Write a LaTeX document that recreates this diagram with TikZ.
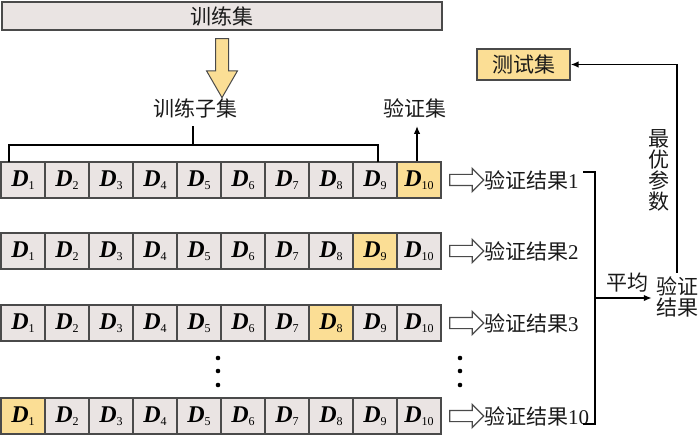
\documentclass[tikz,border=0pt]{standalone}
\usepackage{fontspec}
\setmainfont{Liberation Serif}
\newfontfamily\cjk{Noto Sans CJK SC}
\usetikzlibrary{shapes.arrows,arrows.meta}
\definecolor{cellgray}{HTML}{EAE4E3}
\definecolor{cellyel}{HTML}{FBDE95}
\definecolor{edge}{HTML}{4A4A4A}
\tikzset{
 cell/.style={draw=edge, line width=1.2pt, minimum width=44pt, minimum height=36pt, inner sep=0pt, anchor=center},
 lab/.style={font=\cjk\fontsize{21}{21}\selectfont, inner sep=0pt, text=black!90},
 conn/.style={line width=1.8pt, draw=black},
 tip/.style={-{Latex[length=8pt,width=6.5pt]}},
 hollow/.style={single arrow, draw=edge, fill=white, line width=1.2pt, minimum height=34pt, inner xsep=0pt, inner ysep=5pt, single arrow head extend=6pt, single arrow tip angle=90},
}
\newcommand{\dlab}[1]{{\fontsize{24}{24}\selectfont\bfseries\itshape D}\raisebox{-2.5pt}{\fontsize{12}{12}\selectfont #1}}
\begin{document}
\begin{tikzpicture}[x=1pt,y=-1pt]
\useasboundingbox (0,0) rectangle (700,435);
% top bar
\node[lab, draw=edge, line width=1.2pt, fill=cellgray, minimum width=440pt, minimum height=28pt] (train) at (222,16) {训练集};
\node[single arrow, rotate=-90, draw=edge, fill=cellyel, line width=1pt, minimum height=59pt, inner xsep=0pt, inner ysep=6pt, single arrow head extend=9pt, single arrow tip angle=60] (down) at (222,62.5) {};
% labels above first row
\node[lab] (sub) at (195,108) {训练子集};
\node[lab] (val) at (415,108) {验证集};
% rows
\foreach \r/\y/\h/\n in {1/180/10/1, 2/251/9/2, 3/323/8/3, 4/416/1/10} {
  \foreach \c in {1,...,10} {
    \ifnum\c=\h \def\f{cellyel}\else\def\f{cellgray}\fi
    \node[cell, fill=\f] (r\r-\c) at ({44*\c-21},\y) {\dlab{\c}};
  }
  \node[hollow] (ha\r) at (464,\y) {};
  \node[lab, anchor=west] (res\r) at (484,\y) {验证结果{\rmfamily\n}};
}
% dots
\foreach \yy in {358,371,385} {
  \fill (218,\yy) circle (2.3);
  \fill (460,\yy) circle (2.3);
}
% training subset bracket
\coordinate (bL) at (9,162);
\coordinate (bLt) at (9,145);
\coordinate (bR) at (378,162);
\coordinate (bRt) at (378,145);
\coordinate (bM) at (193,145);
\draw[conn] (bL) -- (bLt) -- (bRt) -- (bR);
\draw[conn, shorten >=8pt] (bM) -- (bM |- sub.south);
% validation arrow
\coordinate (vb) at ([xshift=-2pt]r1-10.north);
\draw[conn,tip, shorten >=8pt] (vb) -- (vb |- val.south);
% right bracket
\coordinate (kT) at (583,172);
\coordinate (kT2) at (595,172);
\coordinate (kB2) at (595,424);
\coordinate (kB) at (583,424);
\coordinate (kM) at (595,298);
\draw[conn] (kT) -- (kT2) -- (kB2) -- (kB);
\node[lab, align=center, inner sep=4pt] (fin) at (677,297) {验证\\结果};
\node[lab] (avg) at (627,283) {平均};
\draw[conn,tip] (kM) -- (kM -| fin.west);
% test set
\node[lab, draw=edge, fill=cellyel, line width=1.2pt, minimum width=93pt, minimum height=31pt] (test) at (523.5,64.5) {测试集};
\draw[conn,tip] (fin.north) |- (test.east);
\node[lab, align=center] (opt) at (659,170) {最\\优\\参\\数};
\end{tikzpicture}
\end{document}
